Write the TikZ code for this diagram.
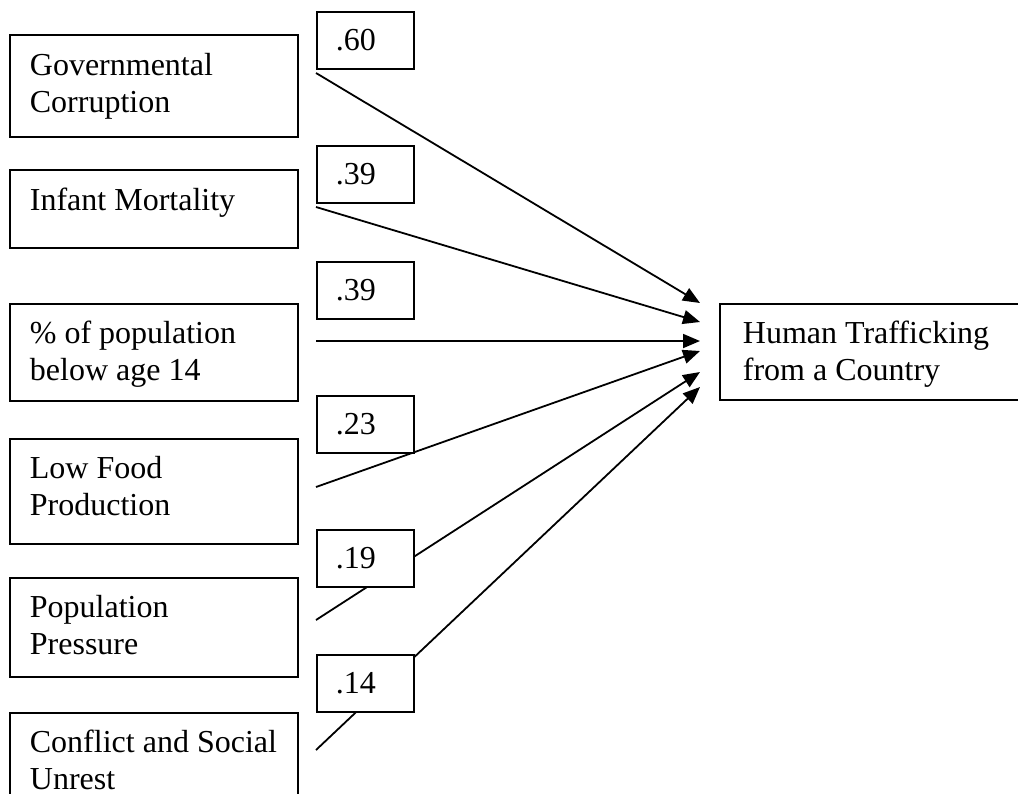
\documentclass[tikz,border=0pt]{standalone}
\usepackage{fontspec}
\setmainfont{Liberation Serif}
\usepackage{tikz}
\usetikzlibrary{arrows.meta}

\begin{document}
\begin{tikzpicture}[
    x=1pt, y=-1pt,
    factor/.style={rectangle, draw, line width=1.8pt, anchor=north west, align=flush left, text width=248pt, inner xsep=20pt, inner ysep=0pt, text height=40pt, font=\fontsize{32}{37}\selectfont},
    coef/.style={rectangle, draw, fill=white, line width=1.8pt, anchor=north west, align=flush left, text width=59pt, inner xsep=19pt, inner ysep=0pt, text height=39pt, text depth=18pt, font=\fontsize{32}{37}\selectfont},
    outcome/.style={factor, text width=400pt, inner xsep=23pt},
    arrow/.style={-{Triangle[length=17pt, width=14pt]}, line width=1.8pt}
]
\path[use as bounding box, clip] (0,0) rectangle (1018,793);

% Left column - predictors
\node[factor, text height=41pt, text depth=61pt] (corrupt) at (9,34) {Governmental\\Corruption};
\node[factor, text height=41pt, text depth=37pt] (infant) at (9,169) {Infant Mortality};
\node[factor, text depth=57pt] (young) at (9,303) {\% of population\\below age 14};
\node[factor, text depth=65pt] (food) at (9,438) {Low Food\\Production};
\node[factor, text depth=59pt] (pressure) at (9,577) {Population\\Pressure};
\node[factor, text depth=90pt] (conflict) at (9,712) {Conflict and Social\\Unrest};

% Right - outcome
\node[outcome, text depth=56pt] (traffic) at (719,303) {Human Trafficking\\from a Country};

% Path ends
\coordinate (corrupt-out) at (316,73);
\coordinate (infant-out) at (316,207);
\coordinate (young-out) at (316,341);
\coordinate (food-out) at (316,487);
\coordinate (pressure-out) at (316,620);
\coordinate (conflict-out) at (316,750);
\coordinate (in1) at (700,303);
\coordinate (in2) at (700,322);
\coordinate (in3) at (700,341);
\coordinate (in4) at (700,351);
\coordinate (in5) at (700,372);
\coordinate (in6) at (700,387);

\draw[arrow] (corrupt-out) -- (in1);
\draw[arrow] (infant-out) -- (in2);
\draw[arrow] (young-out) -- (in3);
\draw[arrow] (food-out) -- (in4);
\draw[arrow] (pressure-out) -- (in5);
\draw[arrow] (conflict-out) -- (in6);

% Path coefficients
\node[coef] (b1) at (316,11) {.60};
\node[coef] (b2) at (316,145) {.39};
\node[coef] (b3) at (316,261) {.39};
\node[coef] (b4) at (316,395) {.23};
\node[coef] (b5) at (316,529) {.19};
\node[coef] (b6) at (316,654) {.14};

\end{tikzpicture}
\end{document}
